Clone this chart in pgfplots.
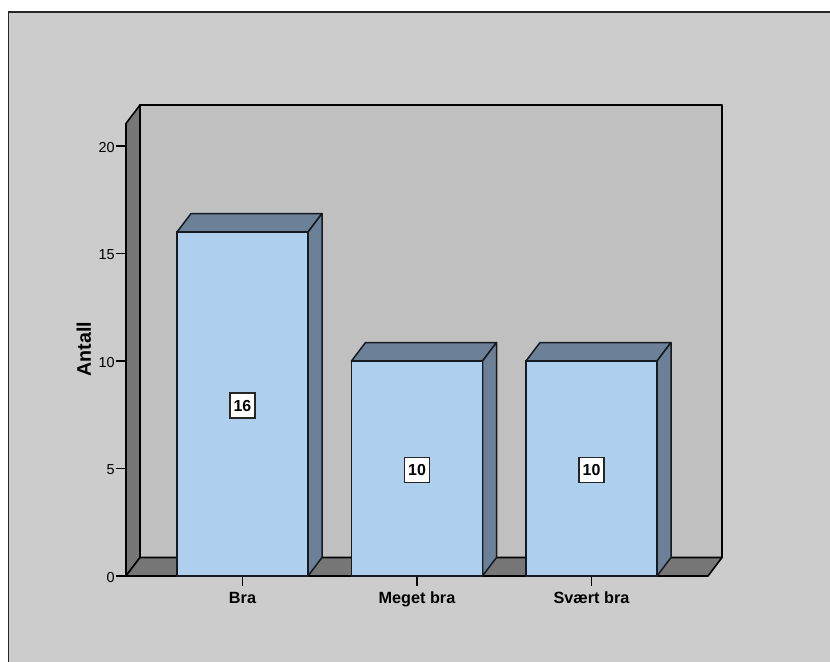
\documentclass[border=0pt]{standalone}
\usepackage{fontspec}
\setmainfont{Liberation Sans}
\usepackage{pgfplots}
\pgfplotsset{compat=1.18}
\definecolor{pagebg}{HTML}{CCCCCC}
\definecolor{wall}{HTML}{C0C0C0}
\definecolor{side}{HTML}{777777}
\definecolor{barfront}{HTML}{AED0EE}
\definecolor{barside}{HTML}{6C8197}
\definecolor{baredge}{HTML}{141A20}
\begin{document}
\begin{tikzpicture}[x=1bp,y=1bp]
\useasboundingbox (0,0) rectangle (830,662);
\clip (0,0) rectangle (830,662);
\fill[white] (0,0) rectangle (830,662);
\draw[fill=pagebg,draw=black!85,line width=1.2bp] (8.5,-10) rectangle (840,650);
\begin{axis}[
  at={(126bp,86bp)},anchor=south west,
  scale only axis,width=582bp,height=452.5bp,
  xmin=-0.6676,xmax=2.6676,ymin=0,ymax=21.05,
  clip=false,
  axis lines=left,axis line style={-,line width=1.8bp,black},
  xtick={0,1,2},xticklabels={Bra,Meget bra,Svært bra},
  ytick={0,5,10,15,20},
  tick align=outside,major tick length=10bp,
  tick style={black,line width=1.5bp},
  xtick pos=bottom,ytick pos=left,
  /pgf/number format/assume math mode=true,
  yticklabel style={font=\fontsize{14.5}{16}\selectfont,inner sep=1.2bp,yshift=-1.5bp},
  xticklabel style={font=\fontsize{16.3}{18}\selectfont\bfseries,inner sep=0bp,text height=12bp,text depth=3bp,yshift=-5bp},
  ylabel={Antall},
  ylabel style={at={(axis description cs:-0.0722,0.5017)},anchor=center,font=\fontsize{19.7}{22}\selectfont\bfseries},
]
% back wall, side wall, floor
\addplot[fill=wall,draw=black,line width=1.8bp,line join=round] coordinates {(-0.5874,0.86)(2.7478,0.86)(2.7478,21.91)(-0.5874,21.91)} --cycle;
\addplot[fill=side,draw=black,line width=1.6bp,line join=round] coordinates {(-0.6676,0)(-0.5874,0.86)(-0.5874,21.91)(-0.6676,21.05)} --cycle;
\addplot[fill=side,draw=black,line width=1.6bp,line join=round] coordinates {(-0.6676,0)(-0.5874,0.86)(2.7478,0.86)(2.6676,0)} --cycle;
% bar tops and sides
\addplot[fill=barside,draw=baredge,line width=1.5bp,line join=round] coordinates {(-0.3754,16)(-0.2952,16.86)(0.4556,16.86)(0.3754,16)} --cycle;
\addplot[fill=barside,draw=baredge,line width=1.5bp,line join=round] coordinates {(0.3754,0)(0.4556,0.86)(0.4556,16.86)(0.3754,16)} --cycle;
\addplot[fill=barside,draw=baredge,line width=1.5bp,line join=round] coordinates {(0.6246,10)(0.7048,10.86)(1.4556,10.86)(1.3754,10)} --cycle;
\addplot[fill=barside,draw=baredge,line width=1.5bp,line join=round] coordinates {(1.3754,0)(1.4556,0.86)(1.4556,10.86)(1.3754,10)} --cycle;
\addplot[fill=barside,draw=baredge,line width=1.5bp,line join=round] coordinates {(1.6246,10)(1.7048,10.86)(2.4556,10.86)(2.3754,10)} --cycle;
\addplot[fill=barside,draw=baredge,line width=1.5bp,line join=round] coordinates {(2.3754,0)(2.4556,0.86)(2.4556,10.86)(2.3754,10)} --cycle;
% bar fronts
\addplot[ybar,bar width=131bp,bar shift=0pt,fill=barfront,draw=baredge,line width=1.5bp] coordinates {(0,16)(1,10)(2,10)};
% value labels
\path[every node/.style={draw=black!85,fill=white,line width=1.5bp,minimum width=25bp,minimum height=25bp,inner sep=0pt,font=\fontsize{16}{18}\selectfont\bfseries,yshift=-1.5bp}]
  (axis cs:0,8) node {16}
  (axis cs:1,5) node {10}
  (axis cs:2,5) node {10};
\end{axis}
\end{tikzpicture}
\end{document}
